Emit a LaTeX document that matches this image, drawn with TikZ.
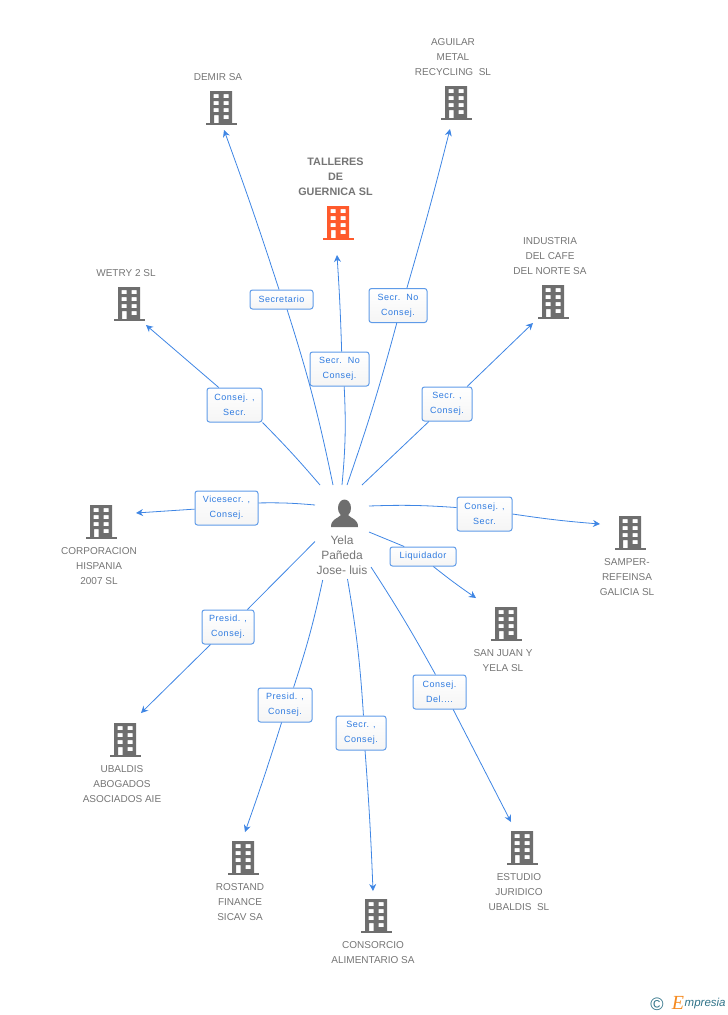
\documentclass[tikz,border=0pt]{standalone}
\usepackage{fontspec}
\setmainfont{Liberation Sans}
\newfontfamily\boxfont[LetterSpace=6]{Liberation Sans}
\newfontfamily\logofont{Liberation Serif}
\usetikzlibrary{arrows.meta}
\definecolor{wireblue}{HTML}{3F86E4}
\definecolor{boxblue}{HTML}{5F9BE8}
\definecolor{labelblue}{HTML}{2F7BE0}
\definecolor{icongray}{HTML}{6E6E6E}
\definecolor{textgray}{HTML}{757575}
\definecolor{iconorange}{HTML}{FF5A2C}
\definecolor{logoteal}{HTML}{2F7288}
\definecolor{logoorange}{HTML}{F58A1F}
\tikzset{
	company/.style={text=textgray, font=\fontsize{10}{15}\selectfont, align=center, inner sep=0pt},
	relbox/.style={draw=boxblue, top color=white, bottom color=black!4, rounded corners=2.5pt, text=labelblue, align=center, inner sep=0pt,
		font=\boxfont\fontsize{9}{15}\selectfont, line width=1pt},
	wire/.style={draw=wireblue, line width=0.8pt},
	arrowwire/.style={wire, -{Stealth[length=7pt,width=7pt]}},
	building/.pic={
		\fill[even odd rule] (-11,-17) rectangle (11,16)
			(-7.5,-14) rectangle (-2.5,-10) (2.5,-14) rectangle (7.5,-10)
			(-7.5,-7) rectangle (-2.5,-3) (2.5,-7) rectangle (7.5,-3)
			(-7.5,0) rectangle (-2.5,4) (2.5,0) rectangle (7.5,4)
			(-7,7) rectangle (-2.5,15) (2.5,7) rectangle (7.5,11);
		\fill (-15.5,14.5) rectangle (15.5,17);
	}
}
\begin{document}
\begin{tikzpicture}[x=1pt,y=-1pt]
	\useasboundingbox (0,0) rectangle (728,1015);

	% Person in the middle
	\fill[icongray] (344.5,508) ellipse (6.5 and 8.5);
	\fill[icongray] (331,527) .. controls (331,519) and (337,519) .. (341,515) -- (348,515)
		.. controls (352,519) and (358,519) .. (358,527) -- cycle;
	\node[company, font=\fontsize{12}{15}\selectfont] (person) at (342,555.5) {Yela\\Pañeda\\Jose- luis};

	% Companies
	\pic[icongray] at (221,108) {building};
	\node[company] (demir) at (218,77) {DEMIR SA};
	\pic[icongray] at (456,103) {building};
	\node[company] (aguilar) at (453,57) {AGUILAR\\METAL\\RECYCLING\ \ SL};
	\pic[iconorange] at (338,223) {building};
	\node[company, font=\bfseries\fontsize{10.8}{15}\selectfont] (talleres) at (335.5,176.5) {TALLERES\\DE\\GUERNICA SL};
	\pic[icongray] at (129,304) {building};
	\node[company] (wetry) at (126,273) {WETRY 2 SL};
	\pic[icongray] at (553,302) {building};
	\node[company] (industria) at (550,256) {INDUSTRIA\\DEL CAFE\\DEL NORTE SA};
	\pic[icongray] at (101,522) {building};
	\node[company] (corporacion) at (99,566) {CORPORACION\\HISPANIA\\2007 SL};
	\pic[icongray] at (630,533) {building};
	\node[company] (samper) at (627,577) {SAMPER-\\REFEINSA\\GALICIA SL};
	\pic[icongray] at (506,624) {building};
	\node[company] (sanjuan) at (503,660.5) {SAN JUAN Y\\YELA SL};
	\pic[icongray] at (125,740) {building};
	\node[company] (ubaldis) at (122,784) {UBALDIS\\ABOGADOS\\ASOCIADOS AIE};
	\pic[icongray] at (243,858) {building};
	\node[company] (rostand) at (240,902) {ROSTAND\\FINANCE\\SICAV SA};
	\pic[icongray] at (376,916) {building};
	\node[company] (consorcio) at (373,953) {CONSORCIO\\ALIMENTARIO SA};
	\pic[icongray] at (522,848) {building};
	\node[company] (estudio) at (519,892) {ESTUDIO\\JURIDICO\\UBALDIS\ \ SL};

	% Free ends of the wires
	\coordinate (sdemir) at (333,485);
	\coordinate (tdemir) at (224,130);
	\coordinate (saguilar) at (347,485);
	\coordinate (taguilar) at (450,129);
	\coordinate (stalleres) at (342,485);
	\coordinate (ttalleres) at (337,255);
	\coordinate (swetry) at (320,485);
	\coordinate (twetry) at (146,325);
	\coordinate (sindustria) at (362,485);
	\coordinate (tindustria) at (533,323);
	\coordinate (scorporacion) at (315,505);
	\coordinate (tcorporacion) at (136,513);
	\coordinate (ssamper) at (369,506);
	\coordinate (tsamper) at (600,524);
	\coordinate (ssanjuan) at (369,532);
	\coordinate (tsanjuan) at (476,598);
	\coordinate (subaldis) at (315,541.5);
	\coordinate (tubaldis) at (141,713);
	\coordinate (srostand) at (322.7,580);
	\coordinate (trostand) at (245,832);
	\coordinate (sconsorcio) at (347.5,579);
	\coordinate (tconsorcio) at (373,891);
	\coordinate (sestudio) at (371,567);
	\coordinate (testudio) at (511,822);

	% Boxes on the wires
	\node[relbox, minimum width=63pt, minimum height=19pt] (bdemir) at (281.5,299.5) {Secretario};
	\node[relbox, minimum width=58pt, minimum height=34pt] (baguilar) at (398,305.5) {Secr.\ \ No\\Consej.};
	\node[relbox, minimum width=59pt, minimum height=34pt] (btalleres) at (339.5,369) {Secr.\ \ No\\Consej.};
	\node[relbox, minimum width=55pt, minimum height=34pt] (bwetry) at (234.5,405) {Consej. ,\\Secr.};
	\node[relbox, minimum width=50pt, minimum height=34pt] (bindustria) at (447,404) {Secr. ,\\Consej.};
	\node[relbox, minimum width=63pt, minimum height=34pt] (bcorporacion) at (226.5,508) {Vicesecr. ,\\Consej.};
	\node[relbox, minimum width=55pt, minimum height=34pt] (bsamper) at (484.5,514) {Consej. ,\\Secr.};
	\node[relbox, minimum width=66pt, minimum height=19pt] (bsanjuan) at (423,556.5) {Liquidador};
	\node[relbox, minimum width=52pt, minimum height=34pt] (bubaldis) at (228,627) {Presid. ,\\Consej.};
	\node[relbox, minimum width=54pt, minimum height=34pt] (brostand) at (285,705) {Presid. ,\\Consej.};
	\node[relbox, minimum width=50pt, minimum height=34pt] (bconsorcio) at (361,733) {Secr. ,\\Consej.};
	\node[relbox, minimum width=53pt, minimum height=34pt] (bestudio) at (439.5,692) {Consej.\\Del....};

	% Wires, person to box and box to company
	\draw[wire] (sdemir) to[bend right=3] (bdemir.-61);
	\draw[arrowwire] (bdemir.104) to[bend right=1] (tdemir);
	\draw[wire] (saguilar) to[bend right=2] (baguilar.-94);
	\draw[arrowwire] (baguilar.63) to[bend right=1] (taguilar);
	\draw[wire] (stalleres) to[bend right=4] (btalleres.-75);
	\draw[arrowwire] (btalleres.83) to[bend right=1] (ttalleres);
	\draw[wire] (swetry) to[bend right=2] (bwetry.-32);
	\draw[arrowwire] (bwetry.132) -- (twetry);
	\draw[wire] (sindustria) -- (bindustria.-136);
	\draw[arrowwire] (bindustria.41) -- (tindustria);
	\draw[wire] (scorporacion) to[bend right=3] (bcorporacion.9);
	\draw[arrowwire] (bcorporacion.182) -- (tcorporacion);
	\draw[wire] (ssamper) to[bend left=3] (bsamper.167);
	\draw[arrowwire] (bsamper.0) to[bend right=2] (tsamper);
	\draw[wire] (ssanjuan) -- (bsanjuan.152);
	\draw[arrowwire] (bsanjuan.-44) to[bend right=2] (tsanjuan);
	\draw[wire] (subaldis) -- (bubaldis.42);
	\draw[arrowwire] (bubaldis.-135) -- (tubaldis);
	\draw[wire] (srostand) to[bend left=3] (brostand.64);
	\draw[arrowwire] (brostand.-101) to[bend left=1] (trostand);
	\draw[wire] (sconsorcio) to[bend left=3] (bconsorcio.82);
	\draw[arrowwire] (bconsorcio.-77) to[bend left=1] (tconsorcio);
	\draw[wire] (sestudio) to[bend left=2] (bestudio.103);
	\draw[arrowwire] (bestudio.-52) -- (testudio);

	% Logo
	\node[text=logoteal, font=\fontsize{18}{18}\selectfont, inner sep=0pt] (copyright) at (657,1004) {©};
	\node[text=logoorange, font=\logofont\itshape\fontsize{20}{20}\selectfont, inner sep=0pt] (logoe) at (678,1003) {E};
	\node[text=logoteal, font=\itshape\fontsize{11.5}{12}\selectfont, anchor=west, inner sep=0pt] (logotext) at (684.5,1004) {mpresia};
\end{tikzpicture}
\end{document}
